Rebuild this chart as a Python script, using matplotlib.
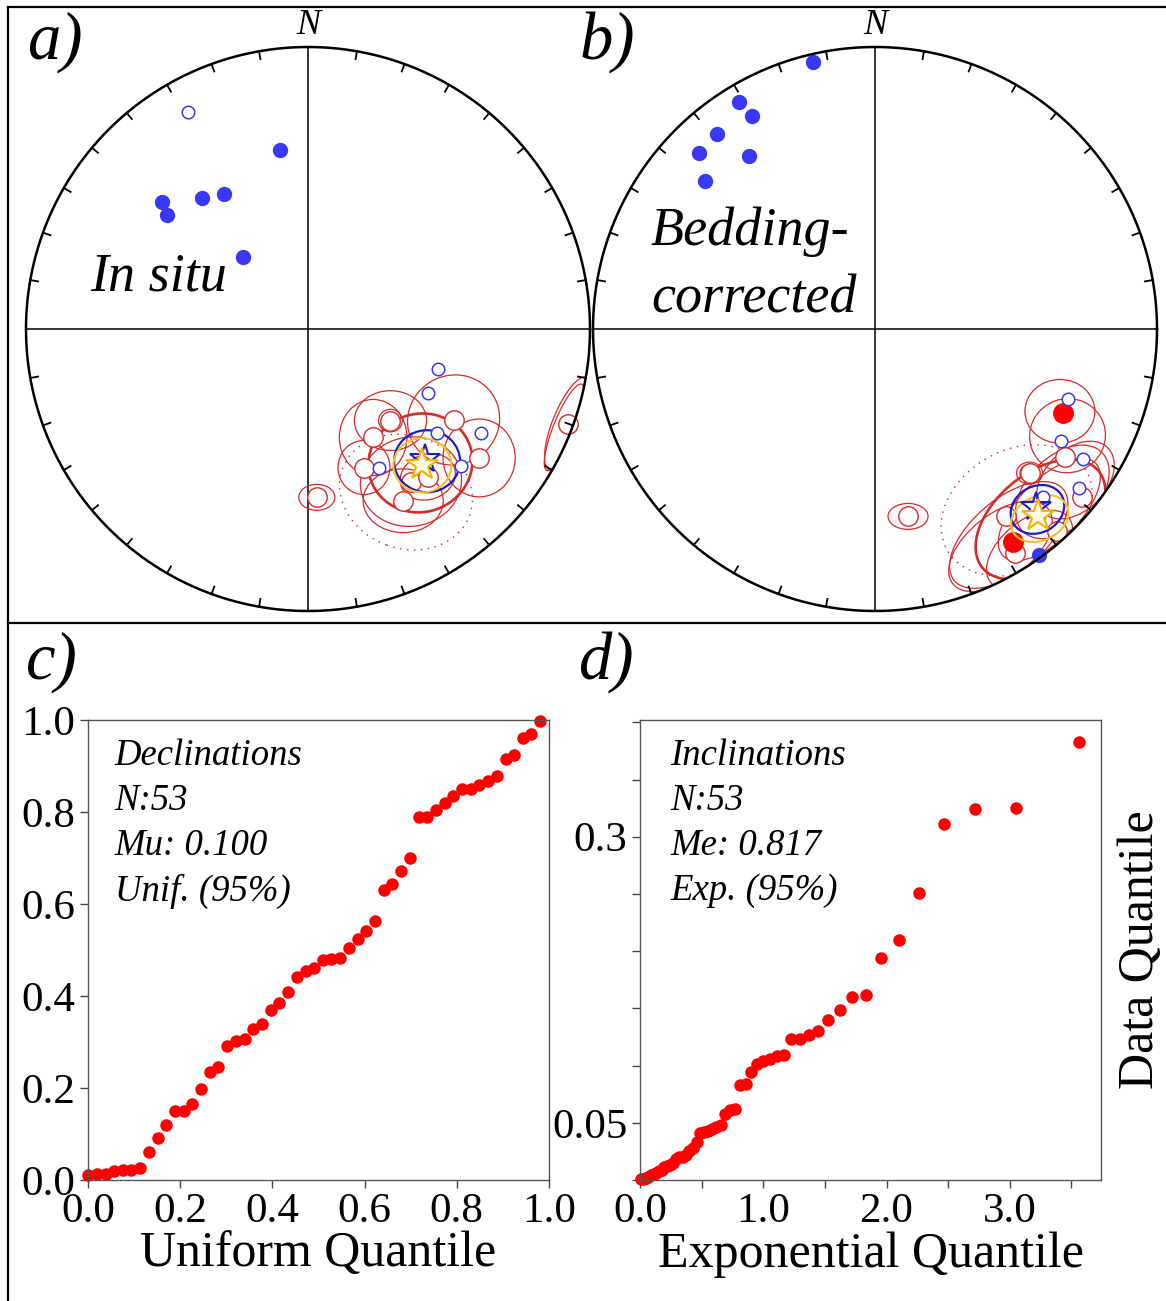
import numpy as np
import matplotlib
matplotlib.use("Agg")
import matplotlib.pyplot as plt
from matplotlib.patches import Ellipse, Circle
from matplotlib.lines import Line2D

SERIF = ["Liberation Serif", "DejaVu Serif"]
RED = "#d42a2a"
BLUE = "#3838f5"
DOT_RED = "#ff0000"

# --- a) in situ directions (declination, inclination) ---
insitu_dec_down = [351, 311, 309, 321, 328, 318]
insitu_inc_down = [36, 32, 36, 40, 43, 62]
insitu_dec_up = [331, 107, 118, 129, 121, 153, 132]
insitu_inc_up = [-13, -50, -50, -41, -29, -44, -28]

insitu_site_dec = [138, 149, 122, 158, 146, 151, 127, 110, 177, 141]
insitu_site_inc = [-54, -53, -39, -46, -35, -31, -25, -2, -40, -33]

# confidence ellipses: dec, inc, semi-axis 1, semi-axis 2 (net units), rotation
insitu_ell_dec = [138, 138, 149, 122, 158, 146, 151, 127, 110, 111, 177, 141]
insitu_ell_inc = [-54, -54, -53, -39, -46, -35, -31, -25, -2, -3, -40, -33]
insitu_ell_a = [0.042, 0.128, 0.120, 0.165, 0.092, 0.180, 0.142, 0.128, 0.056, 0.038, 0.064, 0.100]
insitu_ell_b = [0.040, 0.106, 0.135, 0.158, 0.096, 0.158, 0.113, 0.138, 0.178, 0.165, 0.046, 0.080]
insitu_ell_ang = [0, 0, 0, 30, 0, 10, 0, 0, -22, -22, 0, 20]

insitu_mean = {"dec": 140, "inc": -38, "a": 0.186, "b": 0.174, "ang": 20}
insitu_mean_dot = {"dec": 149, "inc": -33, "a": 0.240, "b": 0.200, "ang": -20}
insitu_fisher = {"dec": 138, "inc": -37, "a": 0.117, "b": 0.110, "ang": 0}
insitu_bingham = {"dec": 140, "inc": -37, "a": 0.103, "b": 0.096, "ang": 0}
insitu_star_blue = (138, -38)
insitu_star_yellow = (140, -37)

# --- b) bedding-corrected directions ---
tilt_dec_down = [347, 329, 330, 321, 315, 324, 311, 144]
tilt_inc_down = [3, 7, 14, 12, 13, 25, 21, 1]
tilt_dec_up = [110, 121, 122, 128, 135]
tilt_inc_up = [-28, -24, -14, -9, -17]

tilt_site_dec_down = [114, 147]
tilt_site_inc_down = [28, 11]
tilt_site_dec_up = [124, 133, 129, 145, 148, 138, 170]
tilt_site_inc_up = [-20, -26, -6, -20, -7, -4, -33]

tilt_ell_dec = [114, 119, 133, 170, 147, 136, 150, 131, 145, 127, 133]
tilt_ell_inc = [29, -23, -26, -33, -14, -12, -12, -13, -5, -12, -26]
tilt_ell_a = [0.113, 0.135, 0.046, 0.071, 0.252, 0.232, 0.215, 0.198, 0.180, 0.162, 0.034]
tilt_ell_b = [0.124, 0.131, 0.039, 0.046, 0.128, 0.108, 0.115, 0.126, 0.102, 0.108, 0.032]
tilt_ell_ang = [90, 20, 0, 0, 40, 45, 38, 45, 40, 45, 0]

tilt_mean = {"dec": 139, "inc": -11.5, "a": 0.268, "b": 0.162, "ang": 40}
tilt_mean_dot = {"dec": 142, "inc": -19.5, "a": 0.284, "b": 0.213, "ang": 30}
tilt_fisher = {"dec": 138, "inc": -15, "a": 0.099, "b": 0.082, "ang": 30}
tilt_bingham = {"dec": 139, "inc": -12, "a": 0.106, "b": 0.078, "ang": 25}
tilt_star_blue = (138, -16)
tilt_star_yellow = (139, -13)

# --- c) declinations vs uniform quantiles ---
unif_q = [0.000, 0.019, 0.038, 0.057, 0.075, 0.094, 0.113, 0.132, 0.151, 0.170,
          0.189, 0.208, 0.226, 0.245, 0.264, 0.283, 0.302, 0.321, 0.340, 0.358,
          0.377, 0.396, 0.415, 0.434, 0.453, 0.472, 0.491, 0.509, 0.528, 0.547,
          0.566, 0.585, 0.604, 0.623, 0.642, 0.660, 0.679, 0.698, 0.717, 0.736,
          0.755, 0.774, 0.792, 0.811, 0.830, 0.849, 0.868, 0.887, 0.906, 0.925,
          0.943, 0.962, 0.981]
dec_q = [0.010, 0.012, 0.014, 0.019, 0.021, 0.021, 0.027, 0.060, 0.092, 0.120,
         0.150, 0.150, 0.165, 0.198, 0.234, 0.245, 0.292, 0.303, 0.306, 0.328,
         0.339, 0.370, 0.384, 0.408, 0.441, 0.454, 0.461, 0.479, 0.481, 0.483,
         0.505, 0.523, 0.542, 0.563, 0.631, 0.644, 0.672, 0.699, 0.789, 0.789,
         0.805, 0.820, 0.834, 0.849, 0.851, 0.858, 0.867, 0.878, 0.915, 0.924,
         0.960, 0.970, 0.998]

# --- d) inclinations vs exponential quantiles ---
exp_q = [3.565, 3.054, 2.718, 2.466, 2.266, 2.098, 1.955, 1.830, 1.719, 1.619,
         1.528, 1.445, 1.368, 1.296, 1.229, 1.167, 1.108, 1.053, 1.000, 0.950,
         0.902, 0.857, 0.813, 0.772, 0.732, 0.693, 0.656, 0.620, 0.586, 0.553,
         0.520, 0.489, 0.459, 0.429, 0.401, 0.373, 0.346, 0.320, 0.294, 0.269,
         0.245, 0.221, 0.198, 0.175, 0.153, 0.131, 0.110, 0.089, 0.068, 0.048,
         0.029, 0.009]
inc_q = [0.383, 0.325, 0.324, 0.311, 0.251, 0.210, 0.194, 0.162, 0.160, 0.149,
         0.140, 0.130, 0.127, 0.123, 0.123, 0.109, 0.108, 0.106, 0.104, 0.101,
         0.094, 0.084, 0.083, 0.062, 0.061, 0.058, 0.048, 0.046, 0.045, 0.043,
         0.042, 0.041, 0.033, 0.028, 0.025, 0.022, 0.020, 0.020, 0.018, 0.015,
         0.013, 0.012, 0.011, 0.009, 0.008, 0.006, 0.005, 0.004, 0.003, 0.002,
         0.001, 0.0005]


def equal_area(dec, inc):
    d = np.radians(np.asarray(dec, dtype=float))
    i = np.asarray(inc, dtype=float)
    r = np.sqrt(2) * np.sin(np.radians(90 - np.abs(i)) / 2)
    return r * np.sin(d), r * np.cos(d)


def draw_net(ax):
    ax.set_xlim(-1, 1)
    ax.set_ylim(-1, 1)
    ax.set_aspect("equal")
    ax.axis("off")
    t = np.linspace(0, 2 * np.pi, 721)
    ax.plot(np.cos(t), np.sin(t), color="k", lw=1.8, clip_on=False, zorder=6)
    ax.plot([-1, 1], [0, 0], color="k", lw=1.1, zorder=1)
    ax.plot([0, 0], [-1, 1], color="k", lw=1.1, zorder=1)
    for az in range(10, 360, 10):
        if az % 90 == 0:
            continue
        a = np.radians(az)
        ax.plot([0.972 * np.sin(a), np.sin(a)], [0.972 * np.cos(a), np.cos(a)],
                color="k", lw=1.3, zorder=6)
    ax.text(0, 1.075, "N", ha="center", va="center", fontsize=26,
            style="italic", family=SERIF)


def draw_ellipse(ax, dec, inc, a, b, ang, clip, **kw):
    x, y = equal_area(dec, inc)
    e = Ellipse((float(x), float(y)), 2 * a, 2 * b, angle=ang, fill=False, **kw)
    ax.add_patch(e)
    e.set_clip_path(clip)


def draw_panel(ax, dec_dn, inc_dn, dec_up, inc_up, ell, means, stars,
               sites_up, sites_dn=None):
    draw_net(ax)
    clip = Circle((0, 0), 1, transform=ax.transData)

    for d, i, a, b, g in zip(*ell):
        draw_ellipse(ax, d, i, a, b, g, clip, ec=RED, lw=0.9, zorder=2)

    thick, dotted, fisher, bingham = means
    draw_ellipse(ax, thick["dec"], thick["inc"], thick["a"], thick["b"], thick["ang"],
                 clip, ec=RED, lw=1.9, zorder=2)
    draw_ellipse(ax, dotted["dec"], dotted["inc"], dotted["a"], dotted["b"], dotted["ang"],
                 clip, ec=RED, lw=1.0, ls=(0, (1, 4)), zorder=2)

    x, y = equal_area(*sites_up)
    ax.plot(x, y, "o", ms=14, mfc="white", mec=RED, mew=1.0, zorder=3)
    if sites_dn is not None:
        x, y = equal_area(*sites_dn)
        ax.plot(x, y, "o", ms=14, mfc="#ff0000", mec="#ff0000", mew=1.0, zorder=3)

    draw_ellipse(ax, fisher["dec"], fisher["inc"], fisher["a"], fisher["b"], fisher["ang"],
                 clip, ec="#1c1cc8", lw=1.6, zorder=4)
    draw_ellipse(ax, bingham["dec"], bingham["inc"], bingham["a"], bingham["b"],
                 bingham["ang"], clip, ec="#f2c230", lw=1.5, zorder=4)

    x, y = equal_area(dec_dn, inc_dn)
    ax.plot(x, y, "o", ms=10, color=BLUE, mec=BLUE, zorder=5)
    x, y = equal_area(dec_up, inc_up)
    ax.plot(x, y, "o", ms=9, mfc="white", mec=BLUE, mew=1.1, zorder=5)

    x, y = equal_area(*stars[0])
    ax.plot(x, y, "*", ms=22, mfc="none", mec="#1c1cc8", mew=1.5, zorder=5)
    x, y = equal_area(*stars[1])
    ax.plot(x, y, "*", ms=24, mfc="#fffbe0", mec="#f2b400", mew=1.5, zorder=5)


def style_qq(ax):
    for s in ax.spines.values():
        s.set_color("#555555")
        s.set_linewidth(1.0)
    ax.tick_params(direction="out", length=6, width=1, color="#444444",
                   labelsize=31, pad=3)
    for lab in ax.get_xticklabels() + ax.get_yticklabels():
        lab.set_family(SERIF)


def main():
    W, H = 1166, 1301
    fig = plt.figure(figsize=(W / 100, H / 100), dpi=100)

    # borders of the figure
    for xs, ys in [([8 / W, 8 / W], [0, 1 - 7 / H]),
                   ([8 / W, 1], [1 - 7 / H, 1 - 7 / H]),
                   ([8 / W, 1], [1 - 623 / H, 1 - 623 / H])]:
        fig.add_artist(Line2D(xs, ys, transform=fig.transFigure, color="k", lw=1.6))

    ax_a = fig.add_axes([26 / W, 690 / H, 564 / W, 564 / H])
    ax_b = fig.add_axes([593 / W, 690 / H, 564 / W, 564 / H])

    draw_panel(ax_a, insitu_dec_down, insitu_inc_down, insitu_dec_up, insitu_inc_up,
               (insitu_ell_dec, insitu_ell_inc, insitu_ell_a, insitu_ell_b, insitu_ell_ang),
               (insitu_mean, insitu_mean_dot, insitu_fisher, insitu_bingham),
               (insitu_star_blue, insitu_star_yellow),
               (insitu_site_dec, insitu_site_inc))
    draw_panel(ax_b, tilt_dec_down, tilt_inc_down, tilt_dec_up, tilt_inc_up,
               (tilt_ell_dec, tilt_ell_inc, tilt_ell_a, tilt_ell_b, tilt_ell_ang),
               (tilt_mean, tilt_mean_dot, tilt_fisher, tilt_bingham),
               (tilt_star_blue, tilt_star_yellow),
               (tilt_site_dec_up, tilt_site_inc_up),
               (tilt_site_dec_down, tilt_site_inc_down))

    ax_a.text(-0.528, 0.184, "In situ", ha="center", va="center", fontsize=39,
              style="italic", family=SERIF)
    ax_b.text(-0.445, 0.344, "Bedding-", ha="center", va="center", fontsize=39,
              style="italic", family=SERIF)
    ax_b.text(-0.428, 0.106, "corrected", ha="center", va="center", fontsize=39,
              style="italic", family=SERIF)

    # c) uniform Q-Q plot of declinations
    ax_c = fig.add_axes([88 / W, 121 / H, 461 / W, 460 / H])
    ax_c.plot(unif_q, dec_q, "o", color=DOT_RED, ms=9, mec="none", clip_on=False)
    ax_c.set_xlim(0, 1)
    ax_c.set_ylim(0, 1)
    ax_c.set_xticks(np.arange(0, 1.01, 0.2))
    ax_c.set_yticks(np.arange(0, 1.01, 0.2))
    ax_c.set_xticklabels(["0.0", "0.2", "0.4", "0.6", "0.8", "1.0"])
    ax_c.set_yticklabels(["0.0", "0.2", "0.4", "0.6", "0.8", "1.0"])
    style_qq(ax_c)
    ax_c.set_xlabel("Uniform Quantile", fontsize=36, family=SERIF, labelpad=0)
    ax_c.text(0.058, 0.96, "Declinations\nN:53\nMu: 0.100\nUnif. (95%)",
              transform=ax_c.transAxes, va="top", ha="left", fontsize=26.5,
              style="italic", family=SERIF, linespacing=1.4)

    # d) exponential Q-Q plot of inclinations
    ax_d = fig.add_axes([640 / W, 121 / H, 461 / W, 460 / H])
    ax_d.plot(exp_q, inc_q, "o", color=DOT_RED, ms=9, mec="none", clip_on=False)
    ax_d.set_xlim(0, 3.74)
    ax_d.set_ylim(0, 0.402)
    ax_d.set_xticks(np.arange(0, 3.6, 0.5))
    ax_d.set_xticklabels(["0.0", "", "1.0", "", "2.0", "", "3.0", ""])
    ax_d.set_yticks(np.arange(0, 0.41, 0.05))
    ax_d.set_yticklabels(["", "0.05", "", "", "", "", "0.3", "", ""])
    style_qq(ax_d)
    ax_d.set_xlabel("Exponential Quantile", fontsize=36, family=SERIF, labelpad=0)
    ax_d.yaxis.set_label_position("right")
    ax_d.set_ylabel("Data Quantile", fontsize=36, family=SERIF, labelpad=12)
    ax_d.text(0.065, 0.96, "Inclinations\nN:53\nMe: 0.817\nExp. (95%)",
              transform=ax_d.transAxes, va="top", ha="left", fontsize=26.5,
              style="italic", family=SERIF, linespacing=1.4)

    for lab, x, y in [("a)", 55, 42), ("b)", 607, 42), ("c)", 52, 662), ("d)", 607, 662)]:
        fig.text(x / W, 1 - y / H, lab, ha="center", va="center", fontsize=48,
                 style="italic", family=SERIF)

    fig.savefig("out.png", dpi=100)


if __name__ == "__main__":
    main()
